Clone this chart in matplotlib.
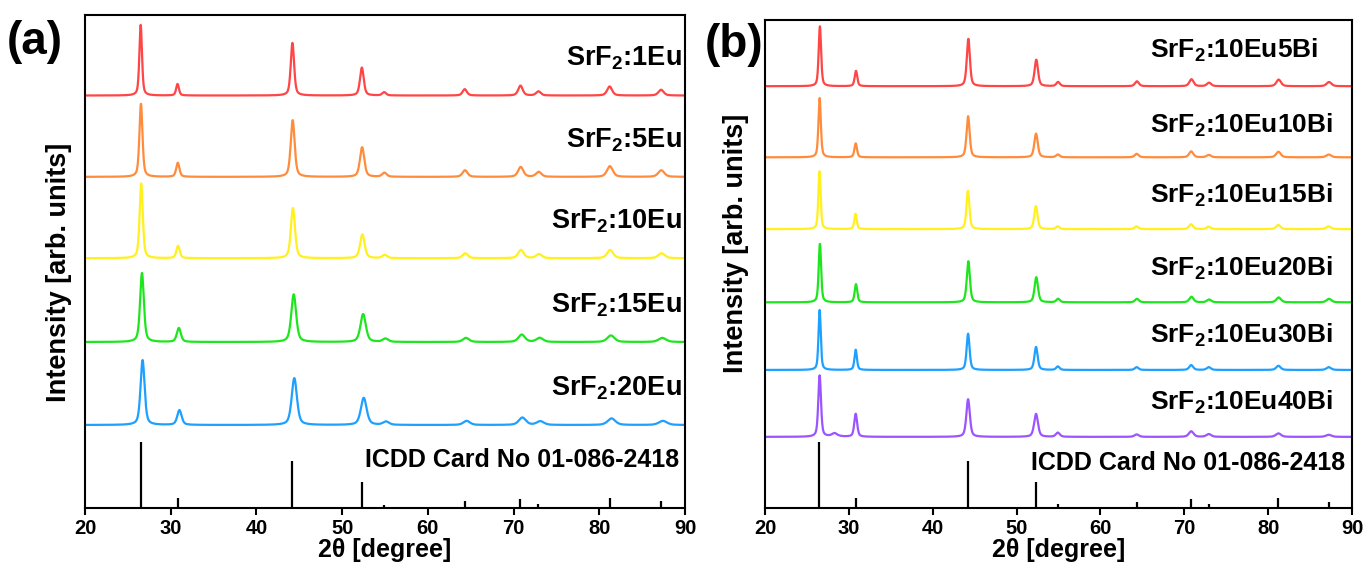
import numpy as np
import matplotlib
matplotlib.use("Agg")
import matplotlib.pyplot as plt

plt.rcParams["font.family"] = ["Liberation Sans", "DejaVu Sans"]
plt.rcParams["font.weight"] = "bold"
plt.rcParams["mathtext.fontset"] = "custom"
plt.rcParams["mathtext.rm"] = "Liberation Sans:bold"
plt.rcParams["mathtext.it"] = "Liberation Sans:bold"
plt.rcParams["mathtext.bf"] = "Liberation Sans:bold"

# reflection positions (2theta) of the cubic SrF2 phase
peak_pos = [26.5, 30.8, 44.2, 52.3, 54.9, 64.3, 70.8, 72.9, 81.2, 87.2]
icdd_a = [0.80, 0.12, 0.57, 0.32, 0.04, 0.08, 0.11, 0.045, 0.125, 0.08]
icdd_b = [0.95, 0.14, 0.67, 0.37, 0.05, 0.09, 0.13, 0.06, 0.15, 0.09]

# panel (a): Eu series
labels_a = ["SrF$_2$:1Eu", "SrF$_2$:5Eu", "SrF$_2$:10Eu", "SrF$_2$:15Eu", "SrF$_2$:20Eu"]
colors_a = ["#ff4545", "#ff8c3c", "#fff01e", "#1ee61e", "#1ea0ff"]
offsets_a = [5.02, 4.03, 3.04, 2.02, 1.01]
shift_a = [0.0, 0.03, 0.06, 0.15, 0.22]
width_a = [0.36, 0.42, 0.44, 0.52, 0.56]
heights_a = [
    [0.86, 0.14, 0.64, 0.34, 0.04, 0.077, 0.12, 0.05, 0.11, 0.07],
    [0.89, 0.17, 0.69, 0.36, 0.05, 0.08, 0.12, 0.06, 0.13, 0.08],
    [0.91, 0.15, 0.61, 0.29, 0.04, 0.06, 0.10, 0.05, 0.10, 0.06],
    [0.84, 0.17, 0.58, 0.34, 0.04, 0.05, 0.09, 0.05, 0.08, 0.05],
    [0.79, 0.18, 0.57, 0.33, 0.04, 0.05, 0.09, 0.045, 0.08, 0.05],
]

# panel (b): Eu/Bi series
labels_b = ["SrF$_2$:10Eu5Bi", "SrF$_2$:10Eu10Bi", "SrF$_2$:10Eu15Bi",
            "SrF$_2$:10Eu20Bi", "SrF$_2$:10Eu30Bi", "SrF$_2$:10Eu40Bi"]
colors_b = ["#ff4545", "#ff8c3c", "#fff01e", "#1ee61e", "#1ea0ff", "#9b55ff"]
offsets_b = [6.05, 5.03, 4.0, 2.95, 1.98, 1.02]
shift_b = [0.05, 0.02, 0.0, 0.05, 0.02, 0.02]
width_b = [0.34, 0.34, 0.32, 0.34, 0.32, 0.38]
heights_b = [
    [0.86, 0.22, 0.68, 0.38, 0.06, 0.07, 0.10, 0.05, 0.095, 0.06],
    [0.85, 0.20, 0.59, 0.34, 0.04, 0.05, 0.085, 0.035, 0.08, 0.04],
    [0.83, 0.22, 0.55, 0.33, 0.04, 0.04, 0.07, 0.035, 0.06, 0.04],
    [0.84, 0.26, 0.59, 0.36, 0.05, 0.05, 0.08, 0.04, 0.07, 0.05],
    [0.86, 0.29, 0.52, 0.33, 0.05, 0.04, 0.07, 0.04, 0.06, 0.04],
    [0.88, 0.33, 0.54, 0.33, 0.06, 0.035, 0.08, 0.04, 0.05, 0.03],
]
# small extra reflection seen only in the 40Bi sample
extra_pos_40bi = 28.3
extra_h_40bi = 0.05

x = np.linspace(20, 90, 3501)


def profile(pos, heights, fwhm, shift):
    y = np.zeros_like(x)
    g = fwhm / 2
    for p, h in zip(pos, heights):
        # wider peaks at high angle, like the measured patterns
        w = g * (1 + (p - 26.5) / 60)
        lor = 1 / (1 + ((x - p - shift) / w) ** 2)
        gau = np.exp(-np.log(2) * ((x - p - shift) / w) ** 2)
        y += h * (0.5 * lor + 0.5 * gau)
    return y


fig = plt.figure(figsize=(13.66, 5.66), dpi=100)
ax_a = fig.add_axes([0.0622, 0.1025, 0.4393, 0.8710])
ax_b = fig.add_axes([0.5600, 0.1025, 0.4298, 0.8622])

for i in range(len(labels_a)):
    y = profile(peak_pos, heights_a[i], width_a[i], shift_a[i])
    ax_a.plot(x, y + offsets_a[i], color=colors_a[i], lw=1.6)
    ax_a.text(89.6, offsets_a[i] + 0.45, labels_a[i], ha="right", va="center",
              fontsize=19.5, fontweight="bold")
ax_a.vlines(peak_pos, 0, icdd_a, color="black", lw=1.6)
ax_a.text(89.3, 0.58, "ICDD Card No 01-086-2418", ha="right", va="center",
          fontsize=18, fontweight="bold")
ax_a.set_ylim(0, 6)

label_dy_b = [0.51, 0.46, 0.48, 0.49, 0.50, 0.50]
for i in range(len(labels_b)):
    y = profile(peak_pos, heights_b[i], width_b[i], shift_b[i])
    if i == len(labels_b) - 1:
        y += extra_h_40bi / (1 + ((x - extra_pos_40bi) / 0.4) ** 2)
    ax_b.plot(x, y + offsets_b[i], color=colors_b[i], lw=1.6)
    ax_b.text(65.9, offsets_b[i] + label_dy_b[i], labels_b[i], ha="left", va="center",
              fontsize=19, fontweight="bold")
ax_b.vlines(peak_pos, 0, icdd_b, color="black", lw=1.6)
ax_b.text(89.2, 0.64, "ICDD Card No 01-086-2418", ha="right", va="center",
          fontsize=18, fontweight="bold")
ax_b.set_ylim(0, 7)

for ax in (ax_a, ax_b):
    ax.set_xlim(20, 90)
    ax.set_xticks(range(20, 91, 10))
    ax.set_yticks([])
    ax.tick_params(axis="x", direction="out", length=5, width=1.5, labelsize=14.5, pad=3)
    for lab in ax.get_xticklabels():
        lab.set_fontweight("bold")
    for sp in ax.spines.values():
        sp.set_linewidth(1.5)
    ax.set_xlabel("2θ [degree]", fontsize=18, fontweight="bold", labelpad=0)
    ax.set_ylabel("Intensity [arb. units]", fontsize=19.5, fontweight="bold")

ax_a.yaxis.set_label_coords(-0.022, 0.477)
ax_b.yaxis.set_label_coords(-0.028, 0.543)

fig.text(0.005, 0.925, "(a)", fontsize=33, fontweight="bold", va="center")
fig.text(0.516, 0.92, "(b)", fontsize=33, fontweight="bold", va="center")

fig.savefig("out.png", dpi=100)
